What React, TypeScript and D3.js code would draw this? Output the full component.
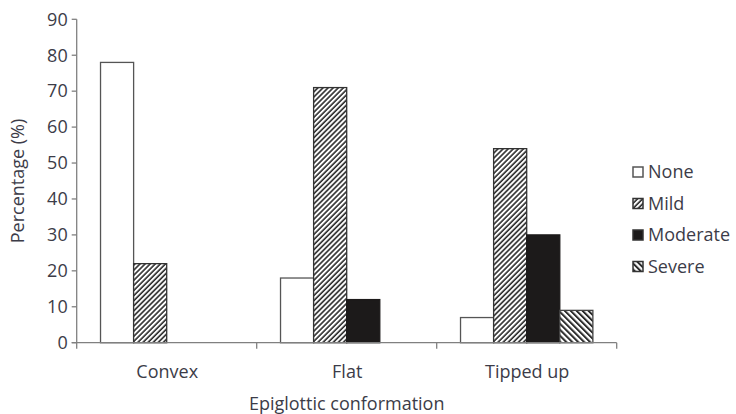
import React from "react";
import * as d3 from "d3";

const categories = ["Convex", "Flat", "Tipped up"];
const seriesNames = ["None", "Mild", "Moderate", "Severe"];
const noneValues = [78, 18, 7];
const mildValues = [22, 71, 54];
const moderateValues = [0, 12, 30];
const severeValues = [0, 0, 9];
const yTicks = [0, 10, 20, 30, 40, 50, 60, 70, 80, 90];

const seriesValues = [noneValues, mildValues, moderateValues, severeValues];
const fills = ["#ffffff", "url(#hatchMild)", "#1c1a1a", "url(#hatchSevere)"];
const strokes = ["#555", "#333", "#1c1a1a", "#444"];

const W = 736, H = 414;
const left = 76.7, right = 616.7, top = 19.3, bottom = 342.7;
const textColor = "#3c3c48";
const axisColor = "#808080";
const font = "'Open Sans', sans-serif";

export default function App() {
  const x0 = d3.scaleBand<string>().domain(categories).range([left, right]).padding(0);
  const x1 = d3
    .scaleBand<string>()
    .domain(seriesNames)
    .range([0, x0.bandwidth()])
    .paddingInner(0)
    .paddingOuter(0.72);
  const y = d3.scaleLinear().domain([0, 90]).range([bottom, top]);

  const bounds = categories.map((c) => x0(c) as number).concat([right]);

  return (
    <svg width={W} height={H} style={{ position: "absolute", left: 0, top: 0, background: "#fff" }}>
      <defs>
        <pattern id="hatchMild" width={3.6} height={3.6} patternUnits="userSpaceOnUse" patternTransform="rotate(45)">
          <rect width={3.6} height={3.6} fill="#fff" />
          <line x1={1} y1={0} x2={1} y2={3.6} stroke="#2a2a2a" strokeWidth={1.6} />
        </pattern>
        <pattern id="hatchSevere" width={4.2} height={4.2} patternUnits="userSpaceOnUse" patternTransform="rotate(-45)">
          <rect width={4.2} height={4.2} fill="#fff" />
          <line x1={1} y1={0} x2={1} y2={4.2} stroke="#2a2a2a" strokeWidth={2} />
        </pattern>
      </defs>

      {/* bars */}
      {categories.map((c, ci) => (
        <g key={c} transform={`translate(${x0(c)},0)`}>
          {seriesNames.map((s, si) => {
            const v = seriesValues[si][ci];
            if (v <= 0) return null;
            return (
              <rect
                key={s}
                x={x1(s) as number}
                y={y(v)}
                width={x1.bandwidth()}
                height={bottom - y(v)}
                fill={fills[si]}
                stroke={strokes[si]}
                strokeWidth={1.3}
              />
            );
          })}
        </g>
      ))}

      {/* y axis */}
      <line x1={left} y1={top} x2={left} y2={bottom} stroke={axisColor} strokeWidth={1.3} />
      {yTicks.map((t) => (
        <g key={t}>
          <line x1={left - 5} x2={left} y1={y(t)} y2={y(t)} stroke={axisColor} strokeWidth={1.3} />
          <text
            x={left - 9}
            y={y(t)}
            dy="0.35em"
            textAnchor="end"
            fontFamily={font}
            fontSize={18}
            fill={textColor}
          >
            {t}
          </text>
        </g>
      ))}

      {/* x axis */}
      <line x1={left - 5} y1={bottom} x2={right} y2={bottom} stroke={axisColor} strokeWidth={1.3} />
      {bounds.map((b, i) => (
        <line key={i} x1={b} x2={b} y1={bottom} y2={bottom + 6} stroke={axisColor} strokeWidth={1.3} />
      ))}
      {categories.map((c) => (
        <text
          key={c}
          x={(x0(c) as number) + x0.bandwidth() / 2 + 0.5}
          y={378}
          textAnchor="middle"
          fontFamily={font}
          fontSize={18}
          fill={textColor}
        >
          {c}
        </text>
      ))}
      <text
        x={(left + right) / 2}
        y={410}
        textAnchor="middle"
        fontFamily={font}
        fontSize={18}
        fill={textColor}
      >
        Epiglottic conformation
      </text>
      <text
        transform={`translate(24,181) rotate(-90)`}
        textAnchor="middle"
        fontFamily={font}
        fontSize={18}
        fill={textColor}
      >
        Percentage (%)
      </text>

      {/* legend */}
      {seriesNames.map((s, si) => {
        const cy = 172 + si * 31.5;
        return (
          <g key={s}>
            <rect
              x={633}
              y={cy - 5}
              width={10}
              height={10}
              fill={fills[si]}
              stroke={si === 0 ? "#555" : "#333"}
              strokeWidth={1.5}
            />
            <text x={648} y={cy} dy="0.35em" fontFamily={font} fontSize={18} fill={textColor}>
              {s}
            </text>
          </g>
        );
      })}
    </svg>
  );
}
